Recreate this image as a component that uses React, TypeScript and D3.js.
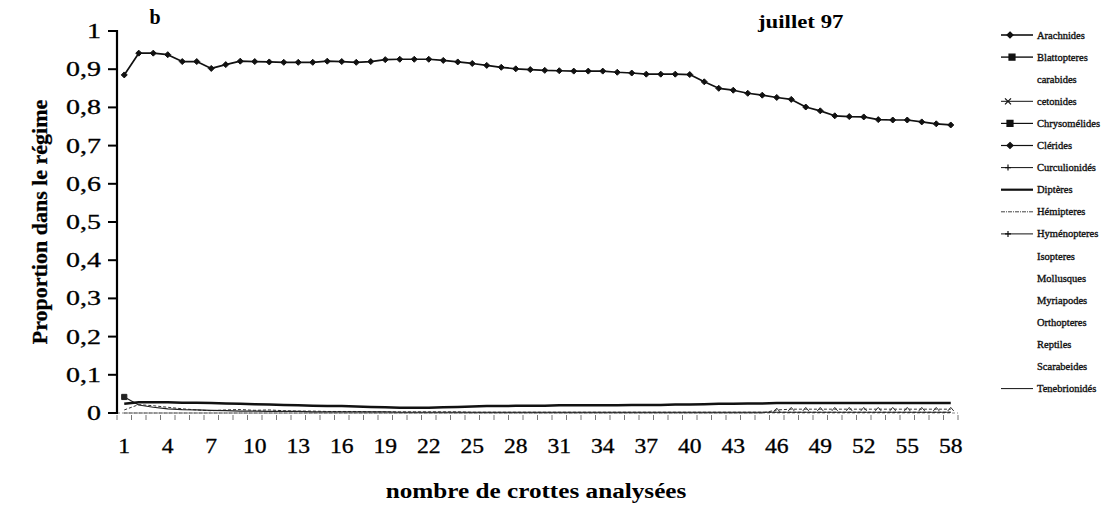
import React from "react";
import * as d3 from "d3";

// ---------- DATA ----------
const categories: number[] = d3.range(1, 59); // nombre de crottes 1..58
const xTickLabels: number[] = [1, 4, 7, 10, 13, 16, 19, 22, 25, 28, 31, 34, 37, 40, 43, 46, 49, 52, 55, 58];
const yTickValues: number[] = [0, 0.1, 0.2, 0.3, 0.4, 0.5, 0.6, 0.7, 0.8, 0.9, 1];
const yTickLabels: string[] = ["0", "0,1", "0,2", "0,3", "0,4", "0,5", "0,6", "0,7", "0,8", "0,9", "1"];

const legendNames: string[] = [
  "Arachnides", "Blattopteres", "carabides", "cetonides", "Chrysomélides", "Clérides",
  "Curculionidés", "Diptères", "Hémipteres", "Hyménopteres", "Isopteres", "Mollusques",
  "Myriapodes", "Orthopteres", "Reptiles", "Scarabeides", "Tenebrionidés",
];

const arachnides: number[] = [
  0.885, 0.942, 0.942, 0.938, 0.920, 0.920, 0.902, 0.912, 0.921, 0.920,
  0.919, 0.918, 0.918, 0.918, 0.921, 0.920, 0.918, 0.920, 0.925, 0.926,
  0.926, 0.926, 0.923, 0.919, 0.915, 0.910, 0.905, 0.901, 0.899, 0.897,
  0.896, 0.895, 0.895, 0.895, 0.892, 0.890, 0.887, 0.887, 0.887, 0.886,
  0.867, 0.850, 0.845, 0.837, 0.832, 0.826, 0.821, 0.801, 0.791, 0.778,
  0.776, 0.775, 0.768, 0.767, 0.767, 0.762, 0.757, 0.754,
];
const blattopteres: number[] = [
  0.042, 0.021, 0.015, 0.011, 0.009, 0.008, 0.007, 0.006, 0.005, 0.005,
  0.004, 0.004, 0.004, 0.003, 0.003, 0.003, 0.003, 0.003, 0.003, 0.002,
  0.002, 0.002, 0.002, 0.002, 0.002, 0.002, 0.002, 0.002, 0.002, 0.002,
  0.002, 0.002, 0.002, 0.002, 0.002, 0.002, 0.002, 0.002, 0.002, 0.002,
  0.002, 0.002, 0.002, 0.002, 0.002, 0.002, 0.002, 0.002, 0.002, 0.002,
  0.002, 0.002, 0.002, 0.002, 0.002, 0.002, 0.002, 0.002,
];
const dipteres: number[] = [
  0.024, 0.028, 0.028, 0.028, 0.027, 0.027, 0.026, 0.025, 0.024, 0.023,
  0.022, 0.021, 0.020, 0.019, 0.018, 0.018, 0.017, 0.016, 0.015, 0.014,
  0.014, 0.014, 0.015, 0.016, 0.017, 0.018, 0.018, 0.019, 0.019, 0.019,
  0.020, 0.020, 0.020, 0.020, 0.020, 0.021, 0.021, 0.021, 0.022, 0.022,
  0.023, 0.024, 0.024, 0.025, 0.025, 0.026, 0.026, 0.026, 0.026, 0.026,
  0.026, 0.026, 0.026, 0.026, 0.026, 0.026, 0.026, 0.026,
];
const hymenopteres: number[] = [
  0.008, 0.022, 0.019, 0.015, 0.011, 0.008, 0.006, 0.008, 0.009, 0.007,
  0.008, 0.006, 0.005, 0.005, 0.004, 0.004, 0.004, 0.003, 0.003, 0.003,
  0.003, 0.003, 0.003, 0.003, 0.002, 0.002, 0.002, 0.002, 0.002, 0.002,
  0.002, 0.002, 0.002, 0.002, 0.002, 0.002, 0.002, 0.002, 0.002, 0.002,
  0.002, 0.002, 0.002, 0.002, 0.002, 0.002, 0.002, 0.002, 0.002, 0.002,
  0.002, 0.002, 0.002, 0.002, 0.002, 0.002, 0.002, 0.002,
];
const hemipteres: number[] = [
  0, 0, 0, 0, 0, 0, 0, 0, 0, 0,
  0, 0, 0, 0, 0, 0, 0, 0, 0, 0,
  0, 0, 0, 0, 0, 0, 0, 0, 0, 0,
  0, 0, 0, 0, 0, 0, 0, 0, 0, 0,
  0, 0, 0, 0, 0, 0.008, 0.010, 0.010, 0.010, 0.010,
  0.010, 0.010, 0.010, 0.010, 0.010, 0.010, 0.010, 0.010,
];

type Marker = "diamond" | "square" | "plus" | "cross" | "tri" | "none";
interface SeriesDef { name: string; values: number[]; width: number; dash?: string; marker: Marker; msize: number; color: string; markerEvery?: number; }

const series: SeriesDef[] = [
  { name: "Hémipteres", values: hemipteres, width: 1, dash: "3,2", marker: "tri", msize: 3, color: "#333" },
  { name: "Hyménopteres", values: hymenopteres, width: 1, dash: "3,2", marker: "none", msize: 0, color: "#333" },
  { name: "Blattopteres", values: blattopteres, width: 1.2, marker: "square", msize: 2.6, color: "#222", markerEvery: 100 },
  { name: "Diptères", values: dipteres, width: 2.5, marker: "none", msize: 0, color: "#111" },
  { name: "Arachnides", values: arachnides, width: 1.7, marker: "diamond", msize: 3, color: "#111" },
];

// legend line appearance per name (names without entry show text only)
const legendStyle: Record<string, { width: number; dash?: string; marker: Marker; mpos: number }> = {
  "Arachnides": { width: 1.6, marker: "diamond", mpos: 1010 },
  "Blattopteres": { width: 1.4, marker: "square", mpos: 1012 },
  "cetonides": { width: 1, marker: "cross", mpos: 1008 },
  "Chrysomélides": { width: 1.2, marker: "square", mpos: 1010 },
  "Clérides": { width: 1.2, marker: "diamond", mpos: 1010 },
  "Curculionidés": { width: 1, marker: "plus", mpos: 1008 },
  "Diptères": { width: 2.2, marker: "none", mpos: 0 },
  "Hémipteres": { width: 0.8, dash: "4,1,1,1", marker: "none", mpos: 0 },
  "Hyménopteres": { width: 1, marker: "plus", mpos: 1008 },
  "Tenebrionidés": { width: 1, marker: "none", mpos: 0 },
};

// ---------- LAYOUT ----------
const W = 1117, H = 506;
const plotLeft = 117, plotRight = 958, plotTop = 31, plotBottom = 413;
const FONT = "'Liberation Serif', 'Times New Roman', serif";

const x = d3.scaleBand<number>().domain(categories).range([plotLeft, plotRight]).padding(0);
const cx = (c: number) => (x(c) as number) + x.bandwidth() / 2;
const y = d3.scaleLinear().domain([0, 1]).range([plotBottom, plotTop]);

function markerPath(m: Marker, s: number): string {
  switch (m) {
    case "diamond": return `M0,${-s}L${s},0L0,${s}L${-s},0Z`;
    case "square": return `M${-s},${-s}H${s}V${s}H${-s}Z`;
    case "plus": return `M${-s},0H${s}M0,${-s}V${s}`;
    case "cross": return `M${-s},${-s}L${s},${s}M${-s},${s}L${s},${-s}`;
    case "tri": return `M${-s},${s * 0.6}L0,${-s * 0.6}L${s},${s * 0.6}`;
    default: return "";
  }
}
const filled = (m: Marker) => m === "diamond" || m === "square";

function SText(props: { x: number; y: number; sx?: number; anchor?: string; size: number; weight?: string; children: React.ReactNode; fill?: string; halo?: number }) {
  const { x: tx, y: ty, sx = 1, anchor = "start", size, weight = "normal", children, fill = "#000", halo = 0 } = props;
  return (
    <g transform={`translate(${tx},${ty}) scale(${sx},1)`}>
      <text textAnchor={anchor as any} fontSize={size} fontWeight={weight} fontFamily={FONT} fill={fill}
        stroke={halo ? fill : "none"} strokeWidth={halo}>{children}</text>
    </g>
  );
}

export default function App() {
  const line = d3.line<number>().x((_, i) => cx(categories[i])).y((d) => y(d));

  return (
    <svg width={W} height={H} viewBox={`0 0 ${W} ${H}`} style={{ position: "absolute", left: 0, top: 0, background: "#fff" }}>
      <rect x={0} y={0} width={W} height={H} fill="#fff" />

      {/* X axis (light) and category ticks */}
      <line x1={plotLeft} x2={plotRight} y1={plotBottom} y2={plotBottom} stroke="#888" strokeWidth={1} strokeDasharray="3,2" />
      {d3.range(categories.length + 1).map((i) => {
        const xx = plotLeft + i * x.bandwidth();
        return <line key={"mt" + i} x1={xx} x2={xx} y1={plotBottom + 2} y2={plotBottom + 7} stroke="#777" strokeWidth={1} />;
      })}

      {/* Series */}
      {series.map((s) => (
        <g key={s.name}>
          <path d={line(s.values) || ""} fill="none" stroke={s.color} strokeWidth={s.width} strokeDasharray={s.dash} strokeLinejoin="round" />
          {s.marker !== "none" && s.values.map((v, i) => {
            if (s.markerEvery && i % s.markerEvery !== 0) return null;
            if (s.name === "Hémipteres" && v === 0) return null;
            return (
              <path key={i} transform={`translate(${cx(categories[i])},${y(v)})`} d={markerPath(s.marker, s.msize)}
                fill={filled(s.marker) ? s.color : "none"} stroke={s.color} strokeWidth={1} />
            );
          })}
        </g>
      ))}

      {/* Y axis */}
      <line x1={plotLeft} x2={plotLeft} y1={plotTop - 1} y2={plotBottom + 1} stroke="#000" strokeWidth={2.2} />
      {yTickValues.map((v, i) => (
        <g key={"yt" + i}>
          <line x1={plotLeft - 9} x2={plotLeft} y1={y(v)} y2={y(v)} stroke="#000" strokeWidth={2} />
          <SText x={101} y={y(v) + 7} sx={1.4} anchor="end" size={20} halo={0.3}>{yTickLabels[i]}</SText>
        </g>
      ))}

      {/* X tick labels */}
      {xTickLabels.map((c) => (
        <SText key={"xl" + c} x={cx(c)} y={453} sx={1.18} anchor="middle" size={20} halo={0.3}>{String(c)}</SText>
      ))}

      {/* Axis titles */}
      <SText x={536} y={498} sx={1.2} anchor="middle" size={21} weight="bold">nombre de crottes analysées</SText>
      <g transform="translate(47,222) rotate(-90)">
        <text textAnchor="middle" fontSize={22} fontWeight="bold" fontFamily={FONT} stroke="#000" strokeWidth={0.3}>Proportion dans le régime</text>
      </g>

      {/* Panel labels */}
      <SText x={155} y={24} anchor="middle" size={20} weight="bold">b</SText>
      <SText x={758} y={28} sx={1.2} size={19} weight="bold">juillet 97</SText>

      {/* Legend */}
      {legendNames.map((name, i) => {
        const ly = 35 + i * 22.1;
        const st = legendStyle[name];
        return (
          <g key={"lg" + name}>
            {st && <line x1={1001} x2={1033} y1={ly} y2={ly} stroke="#111" strokeWidth={st.width} strokeDasharray={st.dash} />}
            {st && st.marker !== "none" && (
              <path transform={`translate(${st.mpos},${ly})`} d={markerPath(st.marker, 3)} fill={filled(st.marker) ? "#111" : "none"} stroke="#111" strokeWidth={1.2} />
            )}
            <SText x={1037} y={ly + 3.5} size={10.5} fill="#111" halo={0.35}>{name}</SText>
          </g>
        );
      })}
    </svg>
  );
}
